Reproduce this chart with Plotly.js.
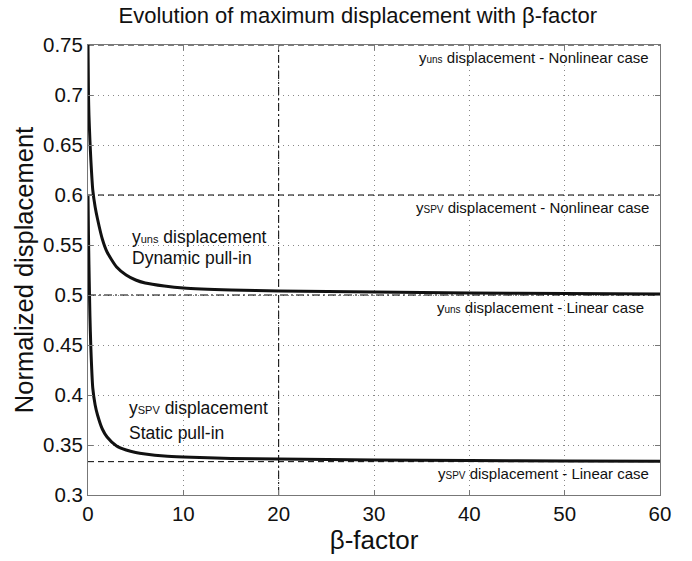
<!DOCTYPE html>
<html>
<head>
<meta charset="utf-8">
<script src="https://cdn.plot.ly/plotly-3.0.1.min.js"></script>
<style>
  html, body { margin: 0; padding: 0; background: #fff; }
  #chart { width: 692px; height: 561px; }
</style>
</head>
<body>
<div id="chart"></div>
<script>
// Beta-factor samples
const beta = [0, 0.05, 0.1, 0.2, 0.3, 0.5, 0.75, 1, 1.5, 2, 3, 4, 5, 6, 8, 10, 15, 20, 30, 40, 50, 60];

// Maximum displacement, dynamic pull-in (y_uns)
const yUns = [0.75, 0.70, 0.68, 0.655, 0.635, 0.605, 0.588, 0.576, 0.556, 0.543, 0.528, 0.52, 0.515, 0.512, 0.509, 0.507, 0.505, 0.504, 0.503, 0.502, 0.5015, 0.501];

// Maximum displacement, static pull-in (y_SPV)
const ySpv = [0.6, 0.56, 0.53, 0.48, 0.447, 0.407, 0.39, 0.38, 0.366, 0.358, 0.349, 0.345, 0.3425, 0.341, 0.339, 0.338, 0.3365, 0.336, 0.335, 0.3345, 0.334, 0.3337];

// Limit values
const yUnsNonlinear = 0.75;
const ySpvNonlinear = 0.6;
const yUnsLinear = 0.5;
const ySpvLinear = 1 / 3;
const betaMark = 20;

const xRange = [0, 60];
const yRange = [0.3, 0.75];
const xTicks = [0, 10, 20, 30, 40, 50, 60];
const yTicks = [0.3, 0.35, 0.4, 0.45, 0.5, 0.55, 0.6, 0.65, 0.7, 0.75];

const sub = (s, px) => '<span style="font-size:' + px + 'px">' + s + '</span>';

function hLine(y, dash) {
  return { x: xRange, y: [y, y], mode: 'lines', line: { color: '#000', width: 1, dash: dash }, hoverinfo: 'skip' };
}

const traces = [
  hLine(yUnsNonlinear, '6px,4px'),
  hLine(ySpvNonlinear, '6px,4px'),
  hLine(yUnsLinear, '8px,3px,2px,3px'),
  hLine(ySpvLinear, '6px,4px'),
  { x: [betaMark, betaMark], y: yRange, mode: 'lines', line: { color: '#000', width: 1, dash: '8px,3px,2px,3px' }, hoverinfo: 'skip' },
  { x: beta, y: yUns, mode: 'lines', line: { color: '#111', width: 3, shape: 'spline', smoothing: 0.6 } },
  { x: beta, y: ySpv, mode: 'lines', line: { color: '#111', width: 3, shape: 'spline', smoothing: 0.6 } }
];

const fontFam = 'Liberation Sans, Arial, sans-serif';

const annotations = [
  { x: 0.985, y: yUnsNonlinear, yshift: -12, text: 'y' + sub('uns', 10) + ' displacement - Nonlinear case', size: 15, xanchor: 'right' },
  { x: 0.985, y: ySpvNonlinear, yshift: -12, text: 'y' + sub('SPV', 10) + ' displacement - Nonlinear case', size: 15, xanchor: 'right' },
  { x: 0.976, y: yUnsLinear, yshift: -12, text: 'y' + sub('uns', 10) + ' displacement - Linear case', size: 15, xanchor: 'right' },
  { x: 0.985, y: ySpvLinear, yshift: -12, text: 'y' + sub('SPV', 10) + ' displacement - Linear case', size: 15, xanchor: 'right' },
  { x: 0.074, y: 0.558, text: 'y' + sub('uns', 11) + ' displacement', size: 17.5, xanchor: 'left' },
  { x: 0.074, y: 0.537, text: 'Dynamic pull-in', size: 17.5, xanchor: 'left' },
  { x: 0.069, y: 0.387, text: 'y' + sub('SPV', 11) + ' displacement', size: 17.5, xanchor: 'left' },
  { x: 0.069, y: 0.362, text: 'Static pull-in', size: 17.5, xanchor: 'left' }
].map(a => ({
  xref: 'paper', yref: 'y', x: a.x, y: a.y, yshift: a.yshift || 0,
  text: a.text, showarrow: false, xanchor: a.xanchor, yanchor: 'middle',
  font: { family: fontFam, size: a.size, color: '#111' }
}));

const axisCommon = {
  showline: true, linecolor: '#777', linewidth: 1, mirror: 'ticks',
  ticks: 'inside', ticklen: 5, tickcolor: '#777',
  showgrid: true, gridcolor: '#888', griddash: '1px,4px', gridwidth: 1,
  zeroline: false,
  tickfont: { family: fontFam, size: 20.5, color: '#111' }
};

const layout = {
  width: 692, height: 561,
  margin: { l: 88, r: 32, t: 45, b: 66 },
  paper_bgcolor: '#fff', plot_bgcolor: '#fff',
  showlegend: false,
  title: {
    text: 'Evolution of maximum displacement with β-factor',
    font: { family: fontFam, size: 22, color: '#111' },
    x: 0.517, xanchor: 'center', y: 0.972, yanchor: 'middle'
  },
  xaxis: Object.assign({}, axisCommon, {
    range: xRange, tickvals: xTicks, ticktext: xTicks.map(String),
    title: { text: 'β-factor', font: { family: fontFam, size: 26, color: '#111' }, standoff: 4 }
  }),
  yaxis: Object.assign({}, axisCommon, {
    range: yRange, tickvals: yTicks, ticktext: yTicks.map(String),
    title: { text: 'Normalized displacement', font: { family: fontFam, size: 25.5, color: '#111' }, standoff: 2 }
  }),
  annotations: annotations
};

Plotly.newPlot('chart', traces, layout, { displayModeBar: false, staticPlot: true });
</script>
</body>
</html>
